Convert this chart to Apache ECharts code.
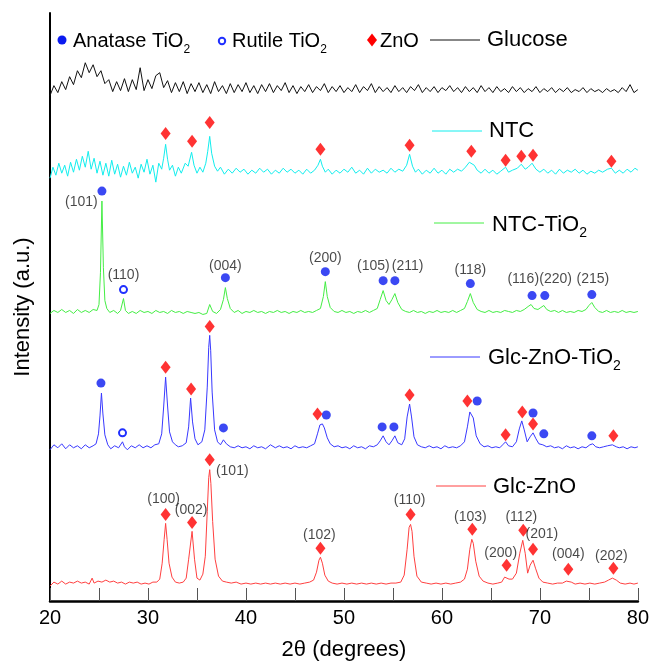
<!DOCTYPE html>
<html>
<head>
<meta charset="utf-8">
<script src="https://cdn.jsdelivr.net/npm/echarts@6/dist/echarts.min.js"></script>
<style>html,body{margin:0;padding:0;background:#fff}#c{width:652px;height:666px}</style>
</head>
<body>
<div id="c"></div>
<script>
// ---- Data: [2theta (deg), intensity (a.u., patterns stacked with offsets)] ----
const glucose = [[20.0,508],[20.4,518],[20.8,511],[21.2,522],[21.6,514],[22.0,527],[22.4,519],[22.8,533],[23.2,526],[23.6,541],[24.0,531],[24.4,539],[24.8,527],[25.2,533],[25.6,520],[26.0,524],[26.4,512],[26.8,522],[27.2,513],[27.6,525],[28.0,512],[28.4,524],[28.8,514],[29.2,536],[29.6,513],[30.0,524],[30.4,515],[30.8,528],[31.2,531],[31.6,516],[32.0,523],[32.4,511],[32.8,521],[33.2,512],[33.6,522],[34.0,510],[34.4,520],[34.8,512],[35.2,521],[35.6,511],[36.0,519],[36.4,510],[36.8,522],[37.2,512],[37.6,518],[38.0,510],[38.4,520],[38.8,511],[39.2,519],[39.6,512],[40.0,521],[40.4,511],[40.8,518],[41.2,510],[41.6,519],[42.0,512],[42.4,520],[42.8,511],[43.2,518],[43.6,513],[44.0,521],[44.4,511],[44.8,518],[45.2,510],[45.6,517],[46.0,512],[46.4,519],[46.8,511],[47.2,517],[47.6,513],[48.0,520],[48.4,511],[48.8,517],[49.2,512],[49.6,518],[50.0,511],[50.4,516],[50.8,512],[51.2,519],[51.6,511],[52.0,517],[52.4,513],[52.8,520],[53.2,511],[53.6,517],[54.0,512],[54.4,516],[54.8,511],[55.2,518],[55.6,512],[56.0,516],[56.4,511],[56.8,517],[57.2,513],[57.6,519],[58.0,511],[58.4,516],[58.8,512],[59.2,517],[59.6,511],[60.0,516],[60.4,513],[60.8,518],[61.2,512],[61.6,516],[62.0,511],[62.4,517],[62.8,512],[63.2,516],[63.6,511],[64.0,518],[64.4,512],[64.8,516],[65.2,511],[65.6,517],[66.0,512],[66.4,515],[66.8,511],[67.2,517],[67.6,512],[68.0,516],[68.4,511],[68.8,515],[69.2,512],[69.6,517],[70.0,511],[70.4,515],[70.8,512],[71.2,516],[71.6,511],[72.0,515],[72.4,512],[72.8,516],[73.2,511],[73.6,514],[74.0,512],[74.4,516],[74.8,511],[75.2,515],[75.6,512],[76.0,514],[76.4,511],[76.8,515],[77.2,512],[77.6,514],[78.0,511],[78.4,516],[78.8,512],[79.2,519],[79.6,511],[80.0,514]];

const ntc = [[20.0,425],[20.3,436],[20.6,428],[20.9,440],[21.2,430],[21.5,438],[21.8,427],[22.1,441],[22.4,431],[22.7,444],[23.0,433],[23.3,447],[23.6,436],[23.9,452],[24.2,434],[24.5,445],[24.8,430],[25.1,442],[25.4,428],[25.7,440],[26.0,427],[26.3,443],[26.6,429],[26.9,439],[27.2,426],[27.5,437],[27.8,428],[28.1,441],[28.4,430],[28.7,436],[29.0,425],[29.3,439],[29.6,431],[29.9,444],[30.2,429],[30.5,438],[30.8,421],[31.1,440],[31.4,434],[31.6,445],[31.8,459],[32.0,444],[32.2,433],[32.5,438],[32.8,427],[33.1,436],[33.4,430],[33.8,440],[34.1,437],[34.45,451],[34.7,438],[35.0,430],[35.3,436],[35.6,431],[35.9,440],[36.1,452],[36.3,467],[36.5,450],[36.8,437],[37.1,432],[37.4,436],[37.8,429],[38.2,434],[38.6,430],[39.0,435],[39.4,431],[39.8,434],[40.2,429],[40.6,433],[41.0,430],[41.4,435],[41.8,431],[42.2,434],[42.6,429],[43.0,433],[43.4,430],[43.8,435],[44.2,431],[44.6,434],[45.0,430],[45.4,433],[45.8,429],[46.2,434],[46.6,430],[47.0,433],[47.35,438],[47.6,444],[47.8,437],[48.1,431],[48.4,434],[48.8,429],[49.2,433],[49.6,430],[50.0,434],[50.4,431],[50.8,436],[51.2,430],[51.6,433],[52.0,429],[52.4,435],[52.8,430],[53.2,434],[53.6,431],[54.0,433],[54.4,430],[54.8,435],[55.2,431],[55.6,434],[56.0,432],[56.4,438],[56.7,449],[57.0,437],[57.3,431],[57.6,434],[58.0,429],[58.4,433],[58.8,430],[59.2,435],[59.6,430],[60.0,433],[60.4,429],[60.8,434],[61.2,431],[61.6,434],[62.0,432],[62.4,436],[62.8,441],[63.0,442],[63.3,438],[63.6,433],[64.0,430],[64.4,434],[64.8,430],[65.2,433],[65.6,429],[66.0,432],[66.5,436],[66.8,431],[67.2,433],[67.7,435],[68.1,439],[68.5,434],[68.8,436],[69.2,440],[69.6,434],[70.0,431],[70.4,434],[70.8,430],[71.2,433],[71.6,429],[72.0,434],[72.4,430],[72.8,433],[73.2,431],[73.6,434],[74.0,430],[74.4,433],[74.8,429],[75.2,432],[75.6,430],[76.0,433],[76.4,431],[76.9,434],[77.3,435],[77.7,430],[78.1,433],[78.5,430],[78.9,434],[79.3,431],[79.7,435],[80.0,433]];

const ntcTiO2 = [[20.0,289],[20.4,292],[20.8,290],[21.2,293],[21.6,290],[22.0,292],[22.4,289],[22.8,293],[23.2,290],[23.6,292],[24.0,290],[24.4,293],[24.8,292],[25.0,298],[25.15,330],[25.3,402],[25.45,335],[25.6,302],[25.8,294],[26.1,290],[26.5,292],[26.9,289],[27.2,292],[27.5,304],[27.7,292],[28.0,289],[28.4,291],[28.8,289],[29.2,292],[29.6,290],[30.0,291],[30.4,289],[30.8,292],[31.2,290],[31.6,291],[32.0,289],[32.4,292],[32.8,290],[33.2,291],[33.6,289],[34.0,291],[34.4,290],[34.8,289],[35.2,290],[35.6,288],[35.8,286],[36.0,289],[36.3,298],[36.6,291],[37.0,289],[37.4,293],[37.7,303],[37.9,315],[38.1,304],[38.4,294],[38.8,290],[39.2,292],[39.6,289],[40.0,291],[40.4,290],[40.8,292],[41.2,290],[41.6,291],[42.0,289],[42.4,291],[42.8,290],[43.2,292],[43.6,290],[44.0,291],[44.4,289],[44.8,291],[45.2,290],[45.6,292],[46.0,290],[46.4,291],[46.8,290],[47.2,292],[47.6,294],[47.9,306],[48.1,321],[48.3,306],[48.6,295],[49.0,291],[49.4,290],[49.8,292],[50.2,290],[50.6,291],[51.0,289],[51.4,291],[51.8,290],[52.2,292],[52.6,290],[53.0,292],[53.4,294],[53.7,303],[54.0,312],[54.3,302],[54.6,298],[54.9,303],[55.2,309],[55.5,300],[55.9,293],[56.3,291],[56.7,290],[57.1,292],[57.5,290],[57.9,291],[58.3,289],[58.7,291],[59.1,290],[59.5,292],[59.9,290],[60.3,291],[60.7,290],[61.1,292],[61.5,290],[61.9,292],[62.3,294],[62.6,301],[62.9,309],[63.2,300],[63.6,293],[64.0,291],[64.4,290],[64.8,292],[65.2,290],[65.6,291],[66.0,290],[66.4,292],[66.8,291],[67.2,290],[67.6,292],[68.0,291],[68.4,293],[68.8,296],[69.1,298],[69.4,294],[69.8,293],[70.1,295],[70.4,297],[70.7,293],[71.1,291],[71.5,292],[71.9,290],[72.3,292],[72.7,290],[73.1,291],[73.5,290],[73.9,292],[74.3,291],[74.7,293],[75.0,297],[75.3,300],[75.6,295],[76.0,291],[76.4,290],[76.8,292],[77.2,290],[77.6,291],[78.0,290],[78.4,292],[78.8,290],[79.2,291],[79.6,290],[80.0,291]];

const glcZnOTiO2 = [[20.0,152],[20.4,157],[20.8,154],[21.2,158],[21.6,153],[22.0,157],[22.4,154],[22.8,156],[23.2,153],[23.6,157],[24.0,154],[24.4,156],[24.7,158],[24.95,168],[25.1,186],[25.25,209],[25.4,188],[25.6,167],[25.9,157],[26.2,153],[26.6,156],[27.0,154],[27.2,156],[27.4,160],[27.6,155],[27.9,152],[28.3,156],[28.7,154],[29.1,157],[29.5,154],[29.9,156],[30.3,154],[30.7,157],[31.1,158],[31.4,168],[31.6,195],[31.8,225],[32.0,196],[32.2,170],[32.5,160],[32.8,157],[33.1,155],[33.5,156],[33.9,159],[34.15,175],[34.35,204],[34.55,180],[34.8,163],[35.1,157],[35.5,160],[35.8,172],[36.05,215],[36.2,255],[36.3,267],[36.4,252],[36.55,210],[36.8,172],[37.1,160],[37.4,157],[37.7,162],[38.0,158],[38.4,155],[38.8,154],[39.2,156],[39.6,154],[40.0,155],[40.4,153],[40.8,156],[41.2,154],[41.6,155],[42.0,153],[42.5,157],[43.0,154],[43.4,156],[43.8,154],[44.2,155],[44.6,153],[45.0,156],[45.4,154],[45.8,155],[46.2,154],[46.6,156],[47.0,158],[47.3,168],[47.55,177],[47.8,178],[48.0,174],[48.3,164],[48.6,158],[49.0,155],[49.4,156],[49.8,154],[50.2,155],[50.6,153],[51.0,156],[51.4,154],[51.8,155],[52.2,153],[52.6,156],[53.0,155],[53.4,157],[53.7,161],[54.0,166],[54.3,160],[54.6,157],[54.9,161],[55.2,166],[55.5,159],[55.9,157],[56.2,163],[56.45,185],[56.7,198],[56.9,185],[57.15,165],[57.5,157],[57.9,155],[58.3,154],[58.7,156],[59.1,154],[59.5,155],[59.9,153],[60.3,156],[60.7,154],[61.1,155],[61.5,154],[61.9,156],[62.3,160],[62.6,175],[62.85,190],[63.0,192],[63.2,184],[63.5,166],[63.9,158],[64.3,155],[64.7,156],[65.1,154],[65.5,155],[65.9,154],[66.2,157],[66.5,160],[66.8,156],[67.2,155],[67.6,160],[67.9,173],[68.15,181],[68.4,172],[68.7,160],[69.0,165],[69.3,169],[69.6,163],[69.9,158],[70.3,157],[70.7,155],[71.1,156],[71.5,154],[71.9,155],[72.3,153],[72.7,156],[73.1,154],[73.5,155],[73.9,153],[74.3,155],[74.7,154],[75.1,157],[75.4,158],[75.7,155],[76.1,154],[76.5,155],[76.9,156],[77.4,157],[77.8,155],[78.1,154],[78.5,155],[78.9,153],[79.3,155],[79.7,154],[80.0,155]];

const glcZnO = [[20.0,15],[20.4,19],[20.8,17],[21.2,20],[21.6,17],[22.0,19],[22.4,18],[22.8,20],[23.2,18],[23.6,19],[24.0,17],[24.3,23],[24.5,18],[24.9,20],[25.3,19],[25.7,21],[26.1,19],[26.5,20],[26.9,18],[27.3,19],[27.7,17],[28.1,19],[28.5,18],[28.9,19],[29.3,17],[29.7,18],[30.1,17],[30.5,19],[30.9,19],[31.2,22],[31.45,38],[31.65,62],[31.8,78],[31.95,62],[32.15,38],[32.45,24],[32.8,19],[33.2,18],[33.6,19],[33.9,23],[34.15,42],[34.5,70],[34.75,42],[35.0,23],[35.3,21],[35.6,27],[35.85,45],[36.05,90],[36.2,124],[36.3,132],[36.42,118],[36.6,80],[36.85,42],[37.2,25],[37.6,20],[38.0,19],[38.5,18],[39.0,19],[39.5,17],[40.0,18],[40.5,17],[41.0,18],[41.5,17],[42.0,18],[42.5,17],[43.0,18],[43.5,17],[44.0,18],[44.5,17],[45.0,18],[45.5,17],[46.0,18],[46.5,19],[46.9,21],[47.2,29],[47.45,41],[47.6,44],[47.8,38],[48.05,26],[48.4,20],[48.8,18],[49.3,17],[49.8,18],[50.3,17],[50.8,18],[51.3,17],[51.8,18],[52.3,17],[52.8,18],[53.3,17],[53.8,18],[54.3,17],[54.8,18],[55.3,18],[55.8,19],[56.15,26],[56.45,52],[56.65,74],[56.8,77],[56.95,70],[57.15,45],[57.45,25],[57.9,19],[58.4,18],[58.9,17],[59.4,18],[59.9,17],[60.4,18],[60.9,17],[61.4,18],[61.9,19],[62.3,22],[62.6,32],[62.85,52],[63.05,62],[63.2,58],[63.45,40],[63.8,25],[64.2,20],[64.7,18],[65.2,17],[65.7,18],[66.1,19],[66.4,24],[66.6,26],[66.85,22],[67.2,22],[67.6,28],[67.95,48],[68.25,61],[68.5,48],[68.75,28],[69.0,36],[69.3,41],[69.55,33],[69.9,23],[70.3,19],[70.8,18],[71.3,17],[71.8,18],[72.3,18],[72.7,20],[72.9,21],[73.2,19],[73.6,17],[74.1,18],[74.6,17],[75.1,18],[75.6,17],[76.1,18],[76.6,19],[77.0,21],[77.4,23],[77.8,21],[78.2,18],[78.7,17],[79.2,18],[79.6,17],[80.0,18]];

// ---- Phase markers [2theta, height] ----
const anataseMarks = [[25.3,412],[37.9,325],[48.1,331],[54.0,322],[55.2,322],[62.9,319],[69.2,307],[70.5,307],[75.3,308],
                      [25.2,219],[37.7,174],[48.2,187],[53.9,175],[55.1,175],[63.6,201],[69.3,189],[70.4,168],[75.3,166]];
const rutileMarks = [[27.5,313],[27.4,169]];
const znoMarks = [[31.8,470],[34.5,462],[36.3,481],[47.6,454],[56.7,458],[63.0,452],[66.5,443],[68.1,447],[69.3,448],[77.3,442],
                  [31.8,235],[34.4,213],[36.3,276],[47.3,188],[56.7,207],[62.6,201],[66.5,167],[68.2,190],[69.3,178],[77.5,166],
                  [31.8,87],[34.5,79],[36.3,142],[47.6,53],[56.8,87],[63.1,72],[66.6,36],[68.3,71],[69.3,52],[72.9,32],[77.5,33]];

// ---- Miller index labels [2theta, height, text] ----
const hklLabels = [[23.2,401,'(101)'],[27.5,328,'(110)'],[37.9,337,'(004)'],[48.1,345,'(200)'],[53.0,337,'(105)'],[56.5,337,'(211)'],[62.9,333,'(118)'],[68.3,324,'(116)'],[71.6,324,'(220)'],[75.4,324,'(215)'],
                   [31.6,102,'(100)'],[34.4,91,'(002)'],[38.6,131,'(101)'],[47.5,66,'(102)'],[56.7,101,'(110)'],[62.9,84,'(103)'],[66.0,48,'(200)'],[68.1,84,'(112)'],[70.2,67,'(201)'],[72.9,47,'(004)'],[77.3,45,'(202)']];

const seriesNames = ['Glucose','NTC','NTC-TiO2','Glc-ZnO-TiO2','Glc-ZnO'];
const seriesColors = ['#111111','#11eeee','#44ee44','#3838ff','#ff4040'];
const xTicks = [20,30,40,50,60,70,80];

const FONT = 'Liberation Sans, Arial, Helvetica, sans-serif';
const chart = echarts.init(document.getElementById('c'), null, {renderer:'canvas'});
const traces = [glucose, ntc, ntcTiO2, glcZnOTiO2, glcZnO];

function legendLine(x1, y, color) {
  return {type:'line', shape:{x1:x1, y1:y, x2:x1+50, y2:y}, style:{stroke:color, lineWidth:1}};
}
function legendText(x, y, txt, size) {
  return {type:'text', x:x, y:y, style:{text:txt, fontSize:size, fontFamily:FONT, fill:'#000',
    verticalAlign:'middle', align:'left', lineHeight:30,
    rich:{s:{fontSize:Math.round(size*0.62), fontFamily:FONT, fill:'#000', verticalAlign:'bottom', lineHeight:14}}}};
}

const option = {
  animation:false,
  backgroundColor:'#fff',
  grid:{left:50, right:14, top:13, bottom:62},
  xAxis:{type:'value', min:20, max:80, interval:5,
    axisLine:{show:true, lineStyle:{color:'#000', width:2.5}},
    axisTick:{show:true, inside:true, length:13, lineStyle:{color:'#555', width:1}},
    axisLabel:{formatter:v => xTicks.indexOf(v) >= 0 ? String(v) : '', fontSize:20, color:'#000', fontFamily:FONT, margin:7},
    splitLine:{show:false},
    name:'2θ (degrees)', nameLocation:'middle', nameGap:38,
    nameTextStyle:{fontSize:22, color:'#000', fontFamily:FONT}},
  yAxis:{type:'value', min:0, max:591,
    axisLine:{show:true, lineStyle:{color:'#000', width:2}},
    axisTick:{show:false}, axisLabel:{show:false}, splitLine:{show:false},
    name:'Intensity (a.u.)', nameLocation:'middle', nameGap:16,
    nameTextStyle:{fontSize:22, color:'#000', fontFamily:FONT}},
  series: traces.map((d,i) => ({
      name:seriesNames[i], type:'line', data:d, showSymbol:false, symbol:'none',
      lineStyle:{color:seriesColors[i], width:1}, z:2
    })).concat([
    {type:'scatter', name:'Anatase', data:anataseMarks, symbol:'circle', symbolSize:9,
      itemStyle:{color:'#0a1af0'}, z:5},
    {type:'scatter', name:'Rutile', data:rutileMarks, symbol:'circle', symbolSize:7,
      itemStyle:{color:'#ffffff', borderColor:'#2030ff', borderWidth:2, opacity:1}, z:5},
    {type:'scatter', name:'ZnO', data:znoMarks, symbol:'diamond', symbolSize:[10,13],
      itemStyle:{color:'#ff0000'}, z:5},
    {type:'scatter', name:'hkl', data:hklLabels, symbol:'circle', symbolSize:1,
      itemStyle:{color:'rgba(255,255,255,0)'}, z:6,
      label:{show:true, position:'inside', formatter:p => p.value[2], fontSize:14, color:'#1a1a1a', fontFamily:FONT}}
  ]),
  graphic:[
    {type:'circle', shape:{cx:62, cy:40, r:4.5}, style:{fill:'#0a1af0'}},
    legendText(73, 41, 'Anatase TiO{s|2}', 20),
    {type:'circle', shape:{cx:222, cy:41, r:3.2}, style:{fill:'#fff', stroke:'#2030ff', lineWidth:2}},
    legendText(232, 41, 'Rutile TiO{s|2}', 20),
    {type:'polygon', shape:{points:[[372,33.5],[377,40],[372,46.5],[367,40]]}, style:{fill:'#ff0000'}},
    legendText(380, 41, 'ZnO', 20),
    legendLine(430, 40, seriesColors[0]),
    legendText(487, 40, 'Glucose', 22),
    legendLine(432, 131, seriesColors[1]),
    legendText(489, 131, 'NTC', 22),
    legendLine(434, 223, seriesColors[2]),
    legendText(492, 225, 'NTC-TiO{s|2}', 22),
    legendLine(430, 357, seriesColors[3]),
    legendText(488, 358, 'Glc-ZnO-TiO{s|2}', 22),
    legendLine(436, 486, seriesColors[4]),
    legendText(493, 487, 'Glc-ZnO', 22)
  ]
};
chart.setOption(option);
</script>
</body>
</html>
